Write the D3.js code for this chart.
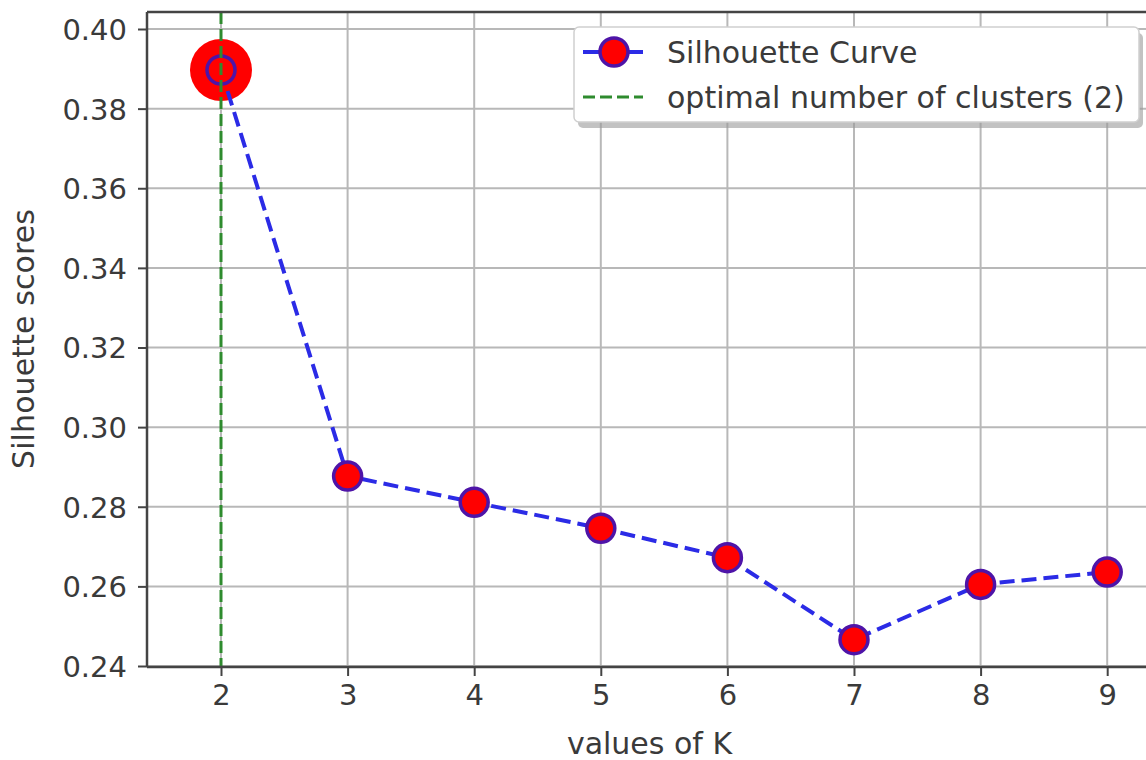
<!DOCTYPE html>
<html>
<head>
<meta charset="utf-8">
<script src="https://cdn.jsdelivr.net/npm/d3@7"></script>
<style>
  html, body { margin: 0; padding: 0; background: #fff; }
  svg { display: block; font-family: "DejaVu Sans", sans-serif; }
</style>
</head>
<body>
<svg id="chart" width="1146" height="760"></svg>
<script>
// ---- data ----
const kValues = [2, 3, 4, 5, 6, 7, 8, 9];
const silhouetteScores = [0.3897, 0.2877, 0.2811, 0.2746, 0.2672, 0.2466, 0.2605, 0.2636];
const optimalK = 2;
const yTicks = [0.24, 0.26, 0.28, 0.30, 0.32, 0.34, 0.36, 0.38, 0.40];
const xTicks = [2, 3, 4, 5, 6, 7, 8, 9];
const legendLabels = ["Silhouette Curve", "optimal number of clusters (2)"];
const xLabel = "values of K";
const yLabel = "Silhouette scores";

(function () {
// ---- layout ----
const svg = d3.select("#chart");
const pLeft = 147, pTop = 12, pBottom = 667;
const x = d3.scaleLinear().domain([1.4155, 9.5845]).range([pLeft, pLeft + (9.5845 - 1.4155) * 126.6]);
const y = d3.scaleLinear().domain([0.24, 0.40]).range([666, 29]);
const tickFont = 29, labelFont = 30;

// grid
const grid = svg.append("g");
grid.selectAll("line.gx").data(xTicks).join("line")
  .attr("x1", d => x(d)).attr("x2", d => x(d)).attr("y1", pTop).attr("y2", pBottom)
  .attr("stroke", "#b8b8b8").attr("stroke-width", 2);
grid.selectAll("line.gy").data(yTicks).join("line")
  .attr("x1", pLeft).attr("x2", 1146).attr("y1", d => y(d)).attr("y2", d => y(d))
  .attr("stroke", "#b8b8b8").attr("stroke-width", 2);

// axes
const xAxis = d3.axisBottom(x).tickValues(xTicks).tickFormat(d3.format("d")).tickSize(9).tickPadding(6);
const yAxis = d3.axisLeft(y).tickValues(yTicks).tickFormat(d3.format(".2f")).tickSize(9).tickPadding(11);
const gx = svg.append("g").attr("transform", `translate(0,${pBottom})`).call(xAxis);
const gy = svg.append("g").attr("transform", `translate(${pLeft},0)`).call(yAxis);
[gx, gy].forEach(g => {
  g.select(".domain").remove();
  g.selectAll(".tick line").attr("stroke", "#444").attr("stroke-width", 2);
  g.selectAll(".tick text").attr("fill", "#3a3a3a").attr("font-size", tickFont)
    .attr("font-family", "DejaVu Sans");
});
gx.selectAll(".tick text").attr("dy", "0.78em");
gy.selectAll(".tick text").attr("dy", "0.36em");

// big highlight circle for optimal K
svg.append("circle")
  .attr("cx", x(optimalK)).attr("cy", y(silhouetteScores[kValues.indexOf(optimalK)]))
  .attr("r", 31).attr("fill", "#ff0000");

// curve
const line = d3.line().x((d, i) => x(kValues[i])).y(d => y(d));
svg.append("path").datum(silhouetteScores)
  .attr("d", line).attr("fill", "none")
  .attr("stroke", "#2b2be6").attr("stroke-width", 4)
  .attr("stroke-dasharray", "15,7");
svg.selectAll("circle.pt").data(silhouetteScores).join("circle")
  .attr("class", "pt")
  .attr("cx", (d, i) => x(kValues[i])).attr("cy", d => y(d))
  .attr("r", 14).attr("fill", "#ff0000")
  .attr("stroke", "#4e14a8").attr("stroke-width", 3.5);

// optimal vertical line
svg.append("line")
  .attr("x1", x(optimalK)).attr("x2", x(optimalK)).attr("y1", pTop).attr("y2", pBottom)
  .attr("stroke", "#2e8b2e").attr("stroke-width", 3).attr("stroke-dasharray", "12,5");

// spines
svg.append("line").attr("x1", pLeft).attr("x2", pLeft).attr("y1", pTop).attr("y2", pBottom)
  .attr("stroke", "#444").attr("stroke-width", 2.5);
svg.append("line").attr("x1", pLeft).attr("x2", 1146).attr("y1", pBottom).attr("y2", pBottom)
  .attr("stroke", "#444").attr("stroke-width", 2.5);
svg.append("line").attr("x1", pLeft).attr("x2", 1146).attr("y1", pTop).attr("y2", pTop)
  .attr("stroke", "#444").attr("stroke-width", 2.5);

// axis labels
svg.append("text").attr("x", (pLeft + 1152) / 2).attr("y", 754)
  .attr("text-anchor", "middle").attr("font-size", labelFont).attr("fill", "#3a3a3a")
  .text(xLabel);
svg.append("text").attr("transform", `translate(34,339) rotate(-90)`)
  .attr("text-anchor", "middle").attr("font-size", labelFont).attr("fill", "#3a3a3a")
  .attr("textLength", 260).attr("lengthAdjust", "spacing")
  .text(yLabel);

// legend
const lg = svg.append("g");
lg.append("rect").attr("x", 578).attr("y", 33).attr("width", 565).attr("height", 95)
  .attr("rx", 5).attr("fill", "#9a9a9a").attr("opacity", 0.6);
lg.append("rect").attr("x", 574).attr("y", 27).attr("width", 565).attr("height", 95)
  .attr("rx", 5).attr("fill", "#ffffff").attr("stroke", "#d0d0d0").attr("stroke-width", 1.5);
lg.append("line").attr("x1", 583).attr("x2", 643).attr("y1", 52).attr("y2", 52)
  .attr("stroke", "#2b2be6").attr("stroke-width", 4);
lg.append("circle").attr("cx", 614).attr("cy", 52).attr("r", 14)
  .attr("fill", "#ff0000").attr("stroke", "#4e14a8").attr("stroke-width", 3.5);
lg.append("line").attr("x1", 583).attr("x2", 643).attr("y1", 97).attr("y2", 97)
  .attr("stroke", "#2e8b2e").attr("stroke-width", 3).attr("stroke-dasharray", "12,5");
lg.selectAll("text").data(legendLabels).join("text")
  .attr("x", 667).attr("y", (d, i) => 63 + i * 45)
  .attr("font-size", labelFont).attr("fill", "#3a3a3a").text(d => d);
})();
</script>
</body>
</html>
